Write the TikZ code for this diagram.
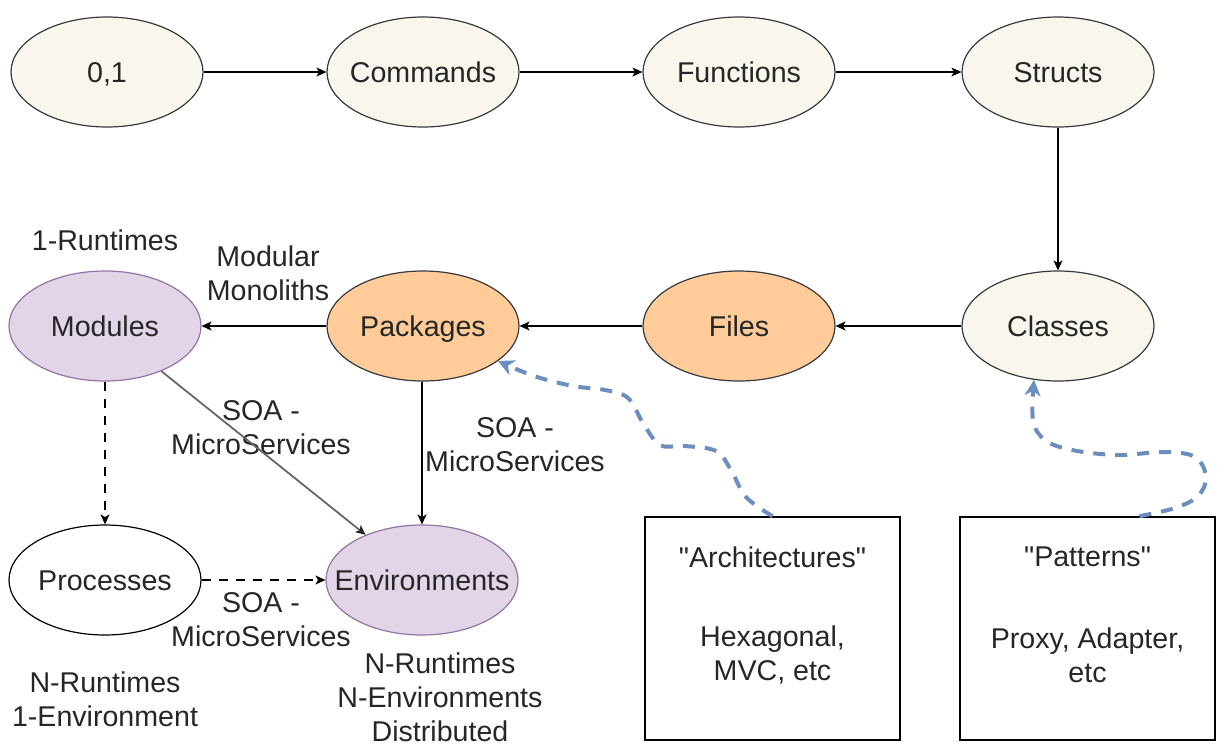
\documentclass[tikz,border=0pt]{standalone}
\usepackage{fontspec}
\newfontfamily\diagfont{Liberation Sans}
\usetikzlibrary{arrows.meta,shapes.geometric}
\definecolor{beige}{HTML}{F9F7ED}
\definecolor{edgedark}{HTML}{36393D}
\definecolor{peach}{HTML}{FFCC99}
\definecolor{lilac}{HTML}{E1D5E7}
\definecolor{lilacedge}{HTML}{9673A6}
\definecolor{linkblue}{HTML}{6C8EBF}
% keep ellipse sizes fixed whatever the label width
\newcommand\flatlabel[1]{\makebox[0pt]{#1}}
\tikzset{
  txt/.style={font=\diagfont\fontsize{14.3}{17}\selectfont, text=black!85},
  blob/.style={ellipse, txt, draw=edgedark, line width=0.6pt,
    minimum width=96pt, minimum height=55pt, inner sep=0pt,
    text height=10.2pt, text depth=0pt},
  stage/.style={blob, fill=beige},
  pack/.style={blob, fill=peach},
  runtime/.style={blob, fill=lilac, draw=lilacedge},
  plainblob/.style={blob, fill=white, draw=black},
  note/.style={txt, align=center, inner sep=0pt},
  card/.style={draw=black, line width=0.8pt, minimum width=127.5pt,
    minimum height=111.5pt, inner sep=0pt},
  flow/.style={line width=0.6pt, -{Stealth[length=5pt,width=4.5pt,inset=1.3pt]}},
  dashflow/.style={flow, dash pattern=on 4.5pt off 4pt},
  greyflow/.style={line width=0.9pt, draw=black!60,
    -{Stealth[length=5pt,width=4.5pt,inset=1.3pt,color=black!85]}},
  hint/.style={draw=linkblue, line width=2pt, dash pattern=on 6pt off 5pt,
    -{Stealth[length=8pt,width=8pt,inset=2.5pt,color=linkblue,sep=0pt]}},
}
\begin{document}
\begin{tikzpicture}[x=0.5pt,y=-0.5pt]
\useasboundingbox (0,0) rectangle (1221,745);

% top row
\node[stage] (bits)  at (107,72)  {\flatlabel{0,1}};
\node[stage] (cmds)  at (423,72)  {\flatlabel{Commands}};
\node[stage] (funcs) at (739,72)  {\flatlabel{Functions}};
\node[stage] (strs)  at (1058,72) {\flatlabel{Structs}};

% middle row
\node[stage]   (classes)  at (1058,326) {\flatlabel{Classes}};
\node[pack]    (files)    at (739,326)  {\flatlabel{Files}};
\node[pack]    (packages) at (423,326)  {\flatlabel{Packages}};
\node[runtime] (modules)  at (105,326)  {\flatlabel{Modules}};

% bottom row
\node[plainblob] (procs) at (105,580) {\flatlabel{Processes}};
\node[runtime]   (envs)  at (422,580) {\flatlabel{Environments}};

% side cards
\node[card] (arch) at (772.5,628.5) {};
\node[card] (patt) at (1087.5,628.5) {};
\node[note] (archtitle) at (772.5,557) {"Architectures"};
\node[note] (archbody)  at (772.5,655) {Hexagonal,\\MVC, etc};
\node[note] (patttitle) at (1087.5,557) {"Patterns"};
\node[note] (pattbody)  at (1087.5,655) {Proxy, Adapter,\\etc};

% free labels
\node[note] (rt1)  at (105,240) {1-Runtimes};
\node[note] (mm)   at (268,273) {Modular\\Monoliths};
\node[note] (soa1) at (261,428) {SOA -\\MicroServices};
\node[note] (soa2) at (515,445) {SOA -\\MicroServices};
\node[note] (soa3) at (261,620) {SOA -\\MicroServices};
\node[note] (nr1)  at (105,699) {N-Runtimes\\1-Environment};
\node[note] (nrn)  at (440,697) {N-Runtimes\\N-Environments\\Distributed};

% main flow
\draw[flow] (bits) -- (cmds);
\draw[flow] (cmds) -- (funcs);
\draw[flow] (funcs) -- (strs);
\draw[flow] (strs) -- (classes);
\draw[flow] (classes) -- (files);
\draw[flow] (files) -- (packages);
\draw[flow] (packages) -- (modules);
\draw[flow] (packages.south -| envs) -- (envs);
\draw[dashflow] (modules) -- (procs);
\draw[dashflow] (procs) -- (envs);
\draw[greyflow] (modules) -- (envs);

% hints from the cards
\draw[hint] plot[smooth, tension=0.6] coordinates {(arch.north) (746,497) (731,470)
  (716,451) (685,446) (660,445) (643,423) (628,398) (605,390) (573,386) (534,376)
  (packages.-25)};
\draw[hint] plot[smooth, tension=0.6] coordinates {([xshift=26pt]patt.north)
  (1175,508) (1198,496) (1206,477) (1195,457) (1164,452) (1118,455) (1072,450)
  (1045,440) (1033,420) (classes.-114)};
\end{tikzpicture}
\end{document}
